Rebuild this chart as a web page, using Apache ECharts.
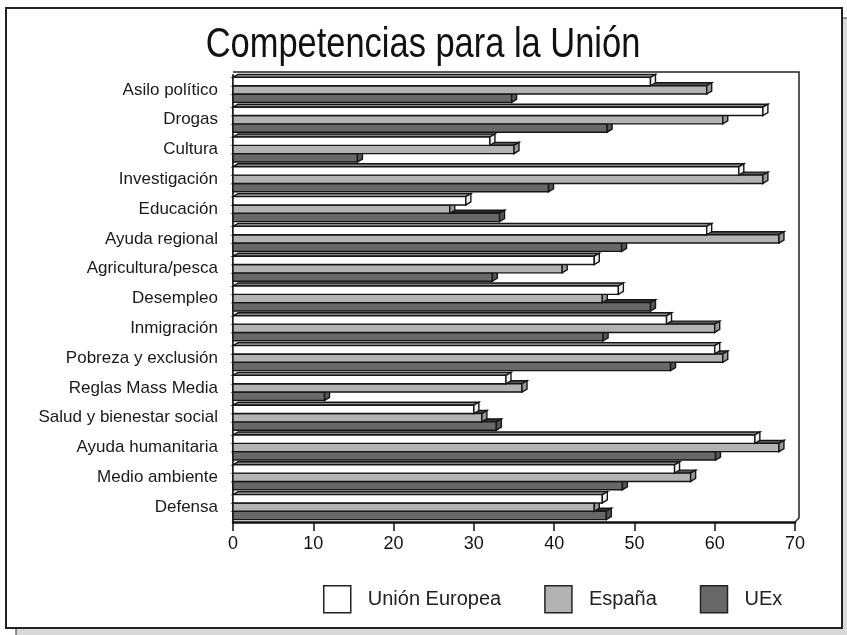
<!DOCTYPE html>
<html>
<head>
<meta charset="utf-8">
<script src="https://cdn.jsdelivr.net/npm/echarts@6/dist/echarts.min.js"></script>
<style>
  html, body { margin: 0; padding: 0; background: #fff; }
  #chart { width: 847px; height: 635px; }
</style>
</head>
<body>
<div id="chart"></div>
<script>
var categories = ['Asilo político', 'Drogas', 'Cultura', 'Investigación', 'Educación',
    'Ayuda regional', 'Agricultura/pesca', 'Desempleo', 'Inmigración', 'Pobreza y exclusión',
    'Reglas Mass Media', 'Salud y bienestar social', 'Ayuda humanitaria', 'Medio ambiente', 'Defensa'];
var unionEuropea = [52, 66, 32, 63, 29, 59, 45, 48, 54, 60, 34, 30, 65, 55, 46];
var espana = [59, 61, 35, 66, 27, 68, 41, 46, 60, 61, 36, 31, 68, 57, 45];
var uex = [34.7, 46.6, 15.5, 39.3, 33.2, 48.4, 32.3, 52, 46.1, 54.5, 11.4, 32.8, 60.1, 48.5, 46.5];
var xTicks = [0, 10, 20, 30, 40, 50, 60, 70];

window.onload = function () {
    var chart = echarts.init(document.getElementById('chart'));

    var dx = 5, dy = 3;

    // barra 3D: cara frontal + cara superior + cara lateral
    function bar3d(slot, fill, topFill, sideFill) {
        return function (params, api) {
            var cat = api.value(1);
            var start = api.coord([0, cat]);
            var end = api.coord([api.value(0), cat]);
            var band = api.size([0, 1])[1];
            var h = band * 0.28;
            var x0 = start[0], x1 = end[0];
            var y0 = start[1] - 1.5 * h + slot * h;
            var st = { stroke: '#161616', lineWidth: 1.4 };
            return {
                type: 'group',
                children: [
                    { type: 'polygon', shape: { points: [[x0, y0], [x0 + dx, y0 - dy], [x1 + dx, y0 - dy], [x1, y0]] },
                      style: Object.assign({ fill: topFill }, st) },
                    { type: 'rect', shape: { x: x0, y: y0, width: x1 - x0, height: h },
                      style: Object.assign({ fill: fill }, st) },
                    { type: 'polygon', shape: { points: [[x1, y0], [x1 + dx, y0 - dy], [x1 + dx, y0 + h - dy], [x1, y0 + h]] },
                      style: Object.assign({ fill: sideFill }, st) }
                ]
            };
        };
    }

    function toData(arr) {
        return arr.map(function (v, i) { return [v, i]; });
    }

    var option = {
        animation: false,
        backgroundColor: '#fff',
        graphic: [
            { type: 'rect', z: -10, shape: { x: 16, y: 18, width: 840, height: 630 },
              style: { fill: '#d9d9d9', stroke: '#333', lineWidth: 1 } },
            { type: 'rect', z: -9, shape: { x: 6, y: 8, width: 836, height: 620 },
              style: { fill: '#fff', stroke: '#222', lineWidth: 2 } },
            { type: 'polyline', z: -5, shape: { points: [[233, 72], [799, 72], [799, 518], [795, 522]] },
              style: { stroke: '#222', lineWidth: 1.5, fill: null } },
            // titulo en letra estrecha (Arial Narrow no está instalada)
            { type: 'text', x: 423, y: 45, scaleX: 0.82, z: 10,
              style: { text: 'Competencias para la Unión', x: 0, y: 0, align: 'center', verticalAlign: 'middle',
                       font: '42px "Liberation Sans", Arial, sans-serif', fill: '#111' } }
        ],
        legend: {
            left: 318,
            top: 580,
            itemWidth: 27,
            itemHeight: 27,
            itemGap: 43,
            textStyle: { fontSize: 20, color: '#222', fontFamily: '"Liberation Sans", Arial, sans-serif', padding: [0, 0, 0, 12] },
            data: [
                { name: 'Unión Europea', icon: 'rect', itemStyle: { color: '#fff', borderColor: '#222', borderWidth: 1.5 } },
                { name: 'España', icon: 'rect', itemStyle: { color: '#b3b3b3', borderColor: '#222', borderWidth: 1.5 } },
                { name: 'UEx', icon: 'rect', itemStyle: { color: '#686868', borderColor: '#222', borderWidth: 1.5 } }
            ]
        },
        grid: { left: 233, right: 52, top: 75, bottom: 113 },
        xAxis: {
            type: 'value',
            min: xTicks[0],
            max: xTicks[xTicks.length - 1],
            interval: 10,
            axisLine: { show: true, lineStyle: { color: '#111', width: 2.5 } },
            axisTick: { show: true, length: 9, lineStyle: { color: '#111', width: 1.5 } },
            axisLabel: { fontSize: 18, color: '#111', margin: 13, fontFamily: '"Liberation Sans", Arial, sans-serif' },
            splitLine: { show: false }
        },
        yAxis: {
            type: 'category',
            inverse: true,
            data: categories,
            axisLine: { show: true, lineStyle: { color: '#333', width: 2 } },
            axisTick: { show: false },
            axisLabel: { fontSize: 17, color: '#1a1a1a', margin: 15, fontFamily: '"Liberation Sans", Arial, sans-serif' }
        },
        series: [
            { name: 'UEx', type: 'custom', z: 2, itemStyle: { color: '#686868' },
              encode: { x: 0, y: 1 }, renderItem: bar3d(2, '#686868', '#2e2e2e', '#555'), data: toData(uex) },
            { name: 'España', type: 'custom', z: 3, itemStyle: { color: '#b3b3b3' },
              encode: { x: 0, y: 1 }, renderItem: bar3d(1, '#b3b3b3', '#555', '#999'), data: toData(espana) },
            { name: 'Unión Europea', type: 'custom', z: 4, itemStyle: { color: '#fff' },
              encode: { x: 0, y: 1 }, renderItem: bar3d(0, '#fff', '#888', '#eee'), data: toData(unionEuropea) }
        ]
    };

    chart.setOption(option);
};
</script>
</body>
</html>
